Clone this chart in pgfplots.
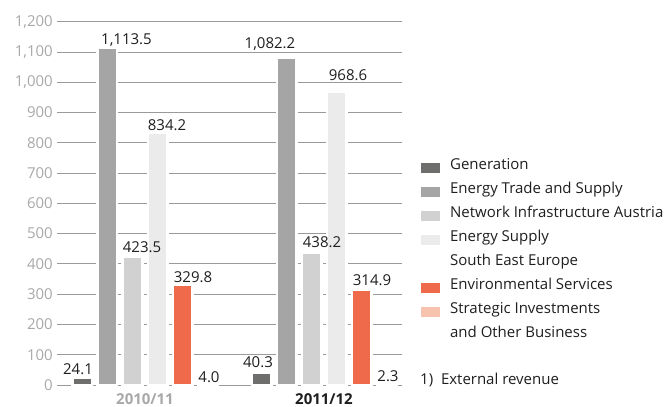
\documentclass[border=0pt]{standalone}
\usepackage{pgfplots}
\pgfplotsset{compat=1.18}
\usepackage{fontspec}
\setmainfont{Open Sans}
\definecolor{cgen}{HTML}{6E6E6D}
\definecolor{cets}{HTML}{A5A5A5}
\definecolor{cnet}{HTML}{D0D1D0}
\definecolor{csee}{HTML}{EBEBEB}
\definecolor{cenv}{HTML}{EE6A4B}
\definecolor{cstr}{HTML}{F7C3AE}
\definecolor{ctick}{HTML}{A8A8A8}
\definecolor{cgrid}{HTML}{9A9A9A}
\definecolor{ctext}{HTML}{1E1E1E}
\begin{document}
\fontsize{15pt}{17pt}\selectfont
\begin{tikzpicture}
\useasboundingbox (0,0) rectangle (665pt,407pt);
\begin{axis}[
  at={(57pt,22pt)}, anchor=south west,
  scale only axis, width=345pt, height=363.3pt,
  xmin=-1.02, xmax=12.78, ymin=0, ymax=1200,
  ytick={0,100,...,1200},
  xtick={2.5,9.66},
  xticklabels={\textcolor{ctick}{\bfseries 2010/11},\textcolor{ctext}{\bfseries 2011/12}},
  axis line style={draw=none},
  tick style={draw=none},
  ymajorgrids, grid style={cgrid, line width=0.8pt},
  /pgf/number format/assume math mode=true,
  /pgf/number format/1000 sep={,},
  yticklabel style={ctick, font=\fontsize{15pt}{17pt}\selectfont, xshift=1pt},
  xticklabel style={font=\fontsize{15pt}{17pt}\selectfont, yshift=-3pt},
  clip=false,
  legend image code/.code={\fill[#1, draw=none] (0pt,-5.5pt) rectangle (19pt,5pt); \path (25pt,0pt);},
  legend style={at={(1.0456,0.637)}, anchor=north west, draw=none, fill=none,
    font=\fontsize{15pt}{17pt}\selectfont, text=ctext,
    legend cell align=left, row sep=0pt,
    nodes={inner ysep=0pt, text height=14pt, text depth=10pt, inner xsep=4pt}},
]
\addplot[ybar, bar shift=0pt, bar width=0.78, fill=cgen, draw=white, line width=2.5pt, forget plot] coordinates {(0,24.1) (7.16,40.3)};
\addplot[ybar, bar shift=0pt, bar width=0.78, fill=cets, draw=white, line width=2.5pt, forget plot] coordinates {(1,1113.5) (8.16,1082.2)};
\addplot[ybar, bar shift=0pt, bar width=0.78, fill=cnet, draw=white, line width=2.5pt, forget plot] coordinates {(2,423.5) (9.16,438.2)};
\addplot[ybar, bar shift=0pt, bar width=0.78, fill=csee, draw=white, line width=2.5pt, forget plot] coordinates {(3,834.2) (10.16,968.6)};
\addplot[ybar, bar shift=0pt, bar width=0.78, fill=cenv, draw=white, line width=2.5pt, forget plot] coordinates {(4,329.8) (11.16,314.9)};
\addplot[ybar, bar shift=0pt, bar width=0.78, fill=cstr, draw=white, line width=2.5pt, forget plot] coordinates {(5,4.0) (12.16,2.3)};
\addplot[only marks, mark=none, forget plot, point meta=explicit, nodes near coords,
  nodes near coords={\pgfmathprintnumber[fixed, fixed zerofill, precision=1, 1000 sep={,}]{\pgfplotspointmeta}},
  every node near coord/.append style={anchor=center, text=ctext, font=\fontsize{15pt}{17pt}\selectfont, inner sep=0pt}]
  table[meta=v] {
  x y v
  -0.18 53 24.1
  1.76 1138 1113.5
  2.38 454 423.5
  3.38 859 834.2
  4.42 355 329.8
  5.06 26 4.0
  7.02 74 40.3
  7.5 1126 1082.2
  9.58 471 438.2
  10.62 1024 968.6
  11.58 345 314.9
  12.22 28 2.3
  };
\addlegendimage{fill=cgen}\addlegendentry{Generation}
\addlegendimage{fill=cets}\addlegendentry{Energy Trade and Supply}
\addlegendimage{fill=cnet}\addlegendentry{Network Infrastructure Austria}
\addlegendimage{fill=csee}\addlegendentry{Energy Supply}
\addlegendimage{empty legend}\addlegendentry{South East Europe}
\addlegendimage{fill=cenv}\addlegendentry{Environmental Services}
\addlegendimage{fill=cstr}\addlegendentry{Strategic Investments}
\addlegendimage{empty legend}\addlegendentry{and Other Business}
\end{axis}
\node[anchor=west, text=ctext, inner sep=0pt] at (420pt,27pt) {1)\ \ External revenue};
\end{tikzpicture}
\end{document}
